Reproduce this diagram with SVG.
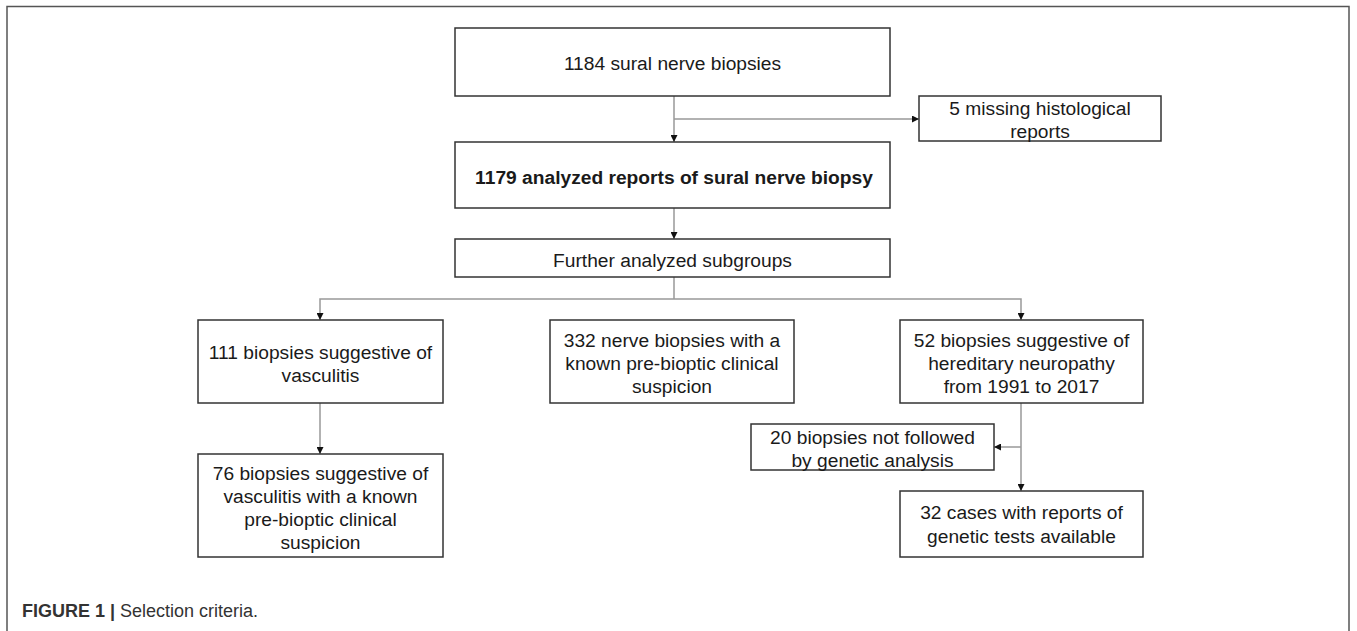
<svg xmlns="http://www.w3.org/2000/svg" width="1357" height="631" viewBox="0 0 1357 631">
<style>
.box{fill:#fff;stroke:#333;stroke-width:1.5}
.t{font-family:"Liberation Sans",Arial,sans-serif;font-size:19.2px;fill:#1a1a1a;text-anchor:middle}
.b{font-weight:bold}
.c{fill:none;stroke:#999;stroke-width:1.5}
.cap{font-family:"Liberation Sans",Arial,sans-serif;font-size:18px;fill:#333}
</style>
<defs>
<marker id="ah" viewBox="0 0 10 10" refX="10" refY="5" markerWidth="7" markerHeight="7" markerUnits="userSpaceOnUse" orient="auto">
<path d="M0,0 L10,5 L0,10 Z" fill="#111"/>
</marker>
</defs>
<rect x="0" y="0" width="1357" height="631" fill="#fff"/>
<rect x="7" y="6.5" width="1342" height="640" fill="none" stroke="#555" stroke-width="1.5"/>

<g id="connectors">
<path class="c" d="M674,96 V142" marker-end="url(#ah)"/>
<path class="c" d="M674,119 H919" marker-end="url(#ah)"/>
<path class="c" d="M674,208 V239" marker-end="url(#ah)"/>
<path class="c" d="M674,277 V299"/>
<path class="c" d="M674,299 H320 V320" marker-end="url(#ah)"/>
<path class="c" d="M674,299 H1021 V320" marker-end="url(#ah)"/>
<path class="c" d="M320,403 V454" marker-end="url(#ah)"/>
<path class="c" d="M1021,403 V491" marker-end="url(#ah)"/>
<path class="c" d="M1021,447 H994" marker-end="url(#ah)"/>
</g>

<g id="n1184">
<rect class="box" x="455" y="28" width="435" height="68"/>
<text class="t" x="672.5" y="70">1184 sural nerve biopsies</text>
</g>
<g id="nmissing">
<rect class="box" x="919" y="96" width="242" height="45"/>
<text class="t" x="1040" y="115">5 missing histological</text>
<text class="t" x="1040" y="138">reports</text>
</g>
<g id="n1179">
<rect class="box" x="455" y="142" width="435" height="66"/>
<text class="t b" x="674" y="184">1179 analyzed reports of sural nerve biopsy</text>
</g>
<g id="nfurther">
<rect class="box" x="455" y="239" width="435" height="38"/>
<text class="t" x="672.5" y="267">Further analyzed subgroups</text>
</g>
<g id="n111">
<rect class="box" x="198" y="320" width="245" height="83"/>
<text class="t" x="320.5" y="359">111 biopsies suggestive of</text>
<text class="t" x="320.5" y="382">vasculitis</text>
</g>
<g id="n332">
<rect class="box" x="550" y="320" width="244" height="83"/>
<text class="t" x="672" y="347">332 nerve biopsies with a</text>
<text class="t" x="672" y="370">known pre-bioptic clinical</text>
<text class="t" x="672" y="393">suspicion</text>
</g>
<g id="n52">
<rect class="box" x="900" y="320" width="243" height="83"/>
<text class="t" x="1021.5" y="347">52 biopsies suggestive of</text>
<text class="t" x="1021.5" y="370">hereditary neuropathy</text>
<text class="t" x="1021.5" y="393">from 1991 to 2017</text>
</g>
<g id="n76">
<rect class="box" x="198" y="454" width="245" height="103"/>
<text class="t" x="320.5" y="480">76 biopsies suggestive of</text>
<text class="t" x="320.5" y="503">vasculitis with a known</text>
<text class="t" x="320.5" y="526">pre-bioptic clinical</text>
<text class="t" x="320.5" y="549">suspicion</text>
</g>
<g id="n20">
<rect class="box" x="751" y="424" width="243" height="46"/>
<text class="t" x="872.5" y="444">20 biopsies not followed</text>
<text class="t" x="872.5" y="467">by genetic analysis</text>
</g>
<g id="n32">
<rect class="box" x="900" y="491" width="243" height="66"/>
<text class="t" x="1021.5" y="519">32 cases with reports of</text>
<text class="t" x="1021.5" y="543">genetic tests available</text>
</g>

<text class="cap" x="22" y="617"><tspan font-weight="bold">FIGURE 1 |</tspan> Selection criteria.</text>
</svg>
